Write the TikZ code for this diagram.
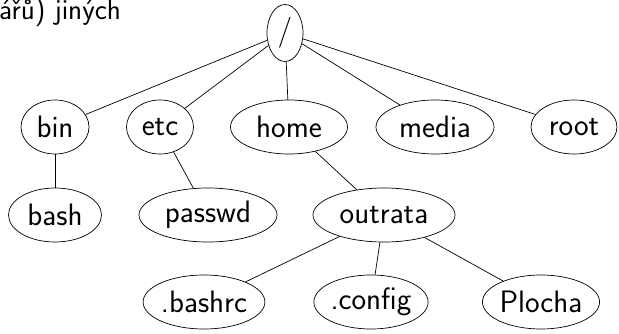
\documentclass[tikz,border=0pt]{standalone}
\usetikzlibrary{shapes.geometric}
\begin{document}
\begin{tikzpicture}[x=1pt,y=1pt,
  dir/.style={draw, ellipse, inner sep=0pt, minimum height=54pt, line width=0.7pt,
    font=\sffamily\fontsize{31}{34}\selectfont},
  link/.style={line width=0.7pt}]
\useasboundingbox (0,0) rectangle (619,333);
\clip (0,0) rectangle (619,333);
% leftover of a caption line above the tree
\node[anchor=base west, inner sep=0pt, font=\sffamily\fontsize{29}{32}\selectfont] (cap) at (-1,313) {ářů) jiných};
% root directory
\node[dir, minimum width=36pt, minimum height=57pt] (slash) at (285,300) {/};
% first level
\node[dir, minimum width=68pt] (bin) at (55,206) {bin};
\node[dir, minimum width=67pt] (etc) at (160,206) {etc};
\node[dir, minimum width=117pt] (home) at (289,206) {home};
\node[dir, minimum width=118pt] (media) at (435,206) {media};
\node[dir, minimum width=86pt] (root) at (574,206) {root};
% second level
\node[dir, minimum width=93pt] (bash) at (55,118) {bash};
\node[dir, minimum width=138pt] (passwd) at (208,118) {passwd};
\node[dir, minimum width=142pt] (outrata) at (384,118) {outrata};
% third level
\node[dir, minimum width=119pt] (bashrc) at (204,31) {.bashrc};
\node[dir, minimum width=104pt] (config) at (371,31) {.config};
\node[dir, minimum width=111pt] (plocha) at (541,31) {Plocha};
% connectors
\foreach \c in {bin,etc,home,media,root} \draw[link] (slash) -- (\c);
\draw[link] (bin) -- (bash);
\draw[link] (etc) -- (passwd);
\draw[link] (home) -- (outrata);
\foreach \c in {bashrc,config,plocha} \draw[link] (outrata) -- (\c);
\end{tikzpicture}
\end{document}
